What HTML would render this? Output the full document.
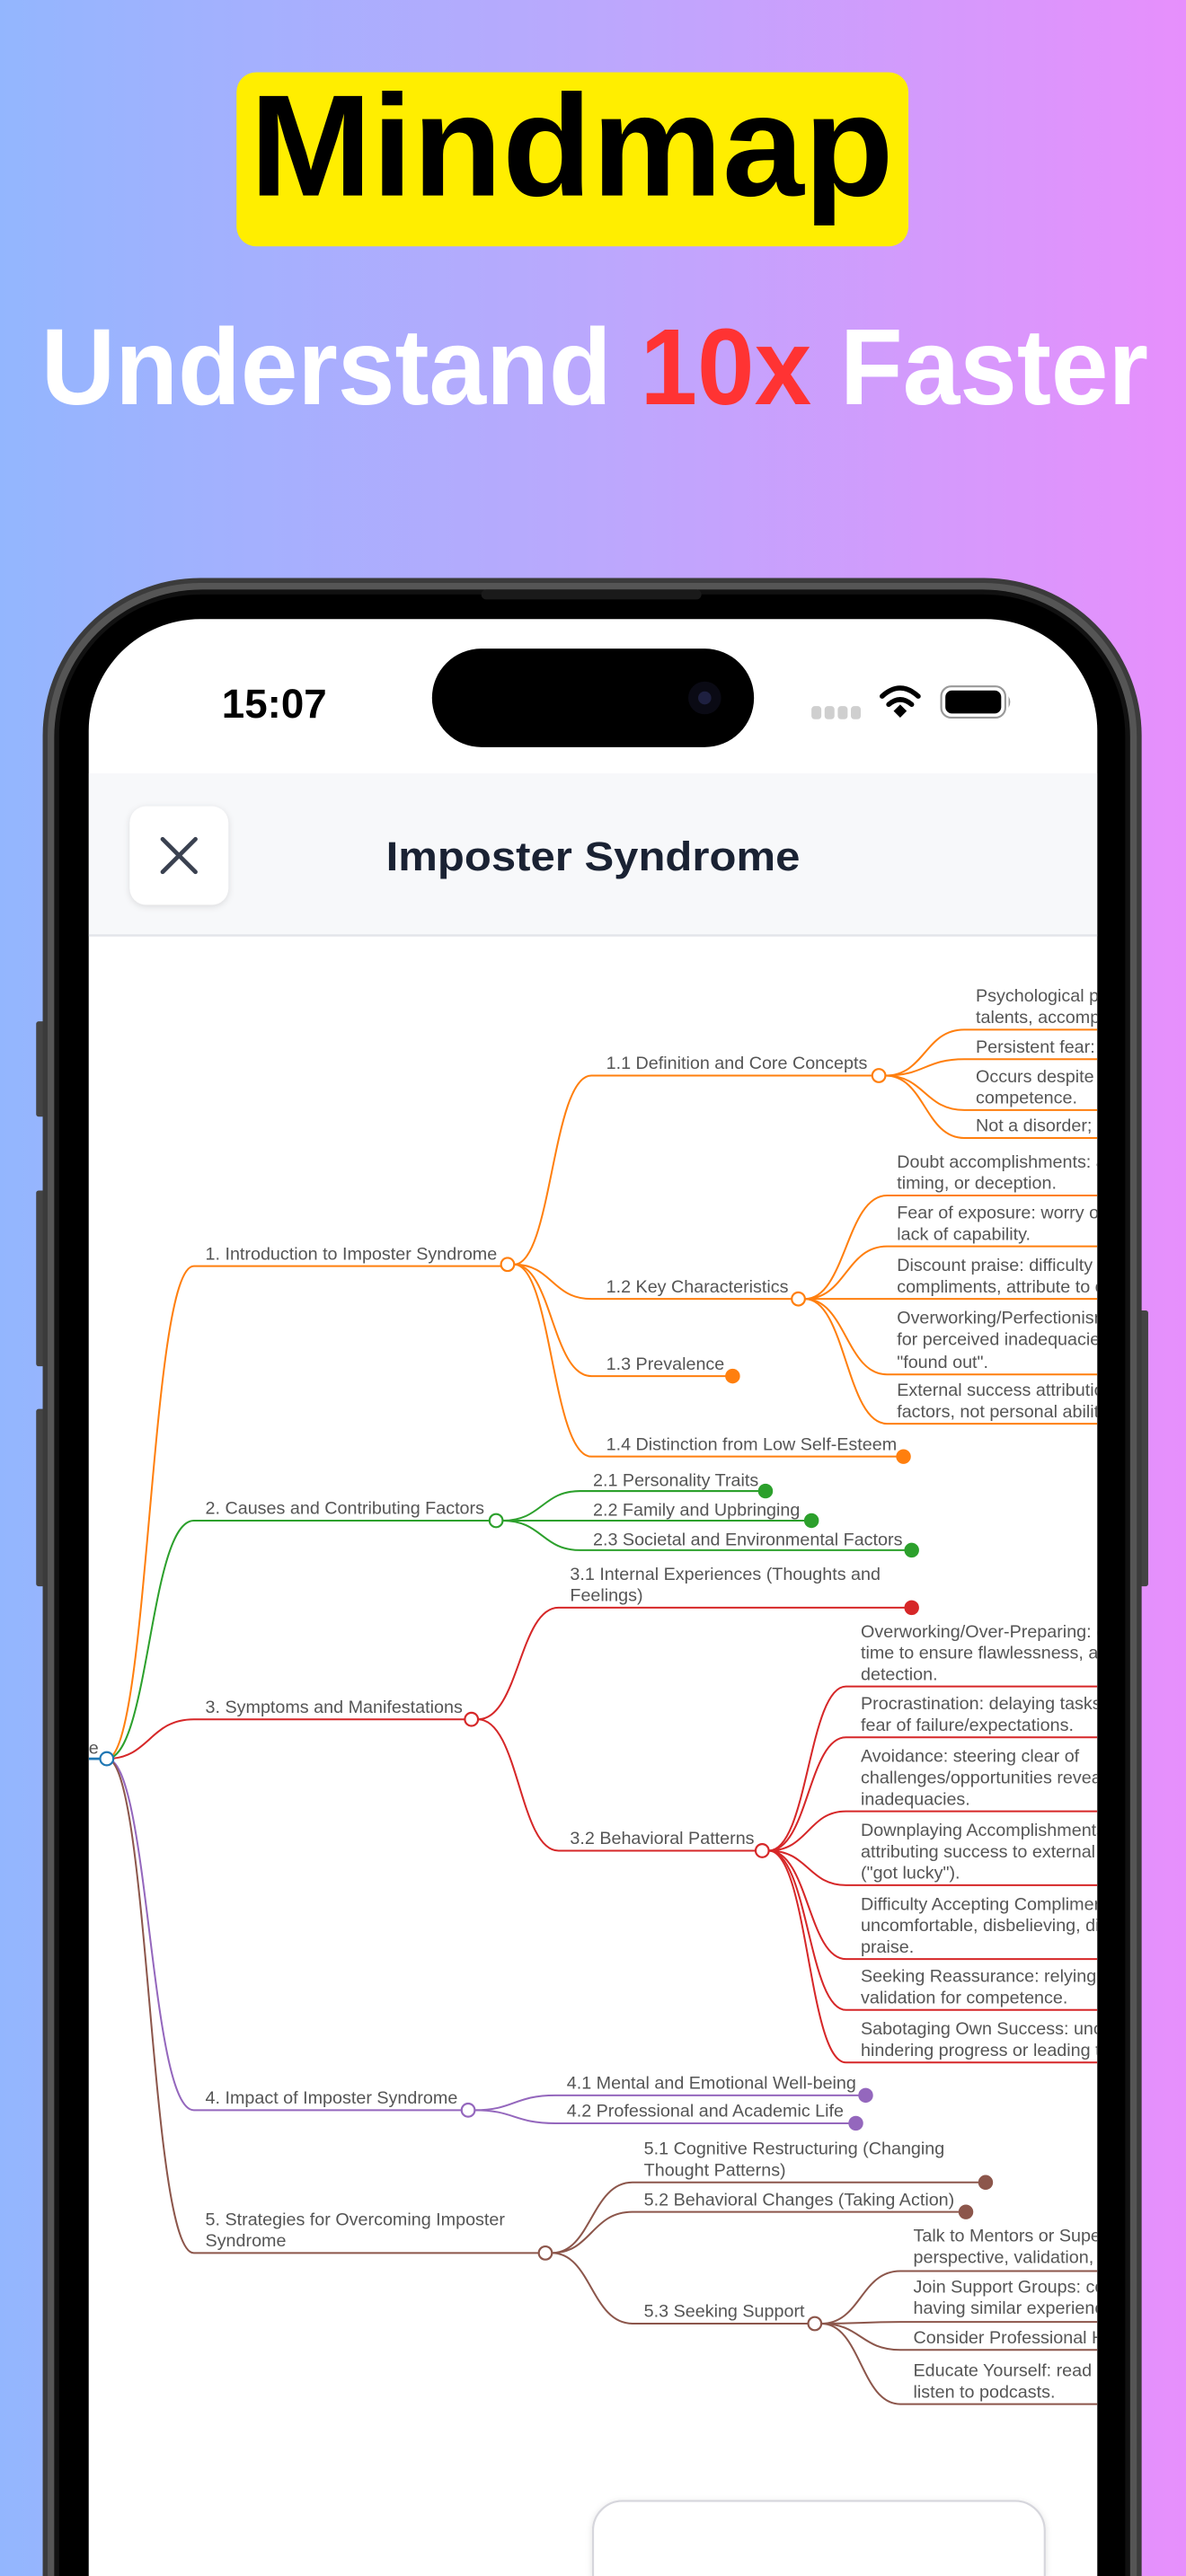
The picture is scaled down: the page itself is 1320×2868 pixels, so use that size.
<!DOCTYPE html>
<html><head><meta charset="utf-8"><style>
html,body{margin:0;padding:0;overflow:hidden;}
body{width:1320px;height:2868px;overflow:hidden;}
svg{display:block;overflow:hidden;}
.t{font-family:"Liberation Sans",sans-serif;font-size:10.8px;fill:#555;}
</style></head><body>
<svg width="1320" height="2868" viewBox="0 0 722 1568.7" preserveAspectRatio="none" xmlns="http://www.w3.org/2000/svg">
<defs>
<linearGradient id="bg" x1="0" y1="0" x2="1" y2="0">
<stop offset="0" stop-color="#93b6fe"/><stop offset="0.5" stop-color="#bba8fd"/><stop offset="1" stop-color="#e78ffc"/>
</linearGradient>
<clipPath id="scr"><path d="M54 1569 V445 A68 68 0 0 1 122 377 H600 A68 68 0 0 1 668 445 V1569 Z"/></clipPath>
<filter id="sh" x="-20%" y="-20%" width="140%" height="140%"><feDropShadow dx="0" dy="1" stdDeviation="2" flood-color="#000" flood-opacity="0.12"/></filter>
</defs>
<rect width="722" height="1569" fill="url(#bg)"/>
<rect x="144" y="44" width="409" height="106" rx="12" fill="#ffee00"/>
<text x="348" y="119" text-anchor="middle" font-family="Liberation Sans,sans-serif" font-weight="bold" font-size="88" textLength="392" lengthAdjust="spacingAndGlyphs" fill="#000">Mindmap</text>
<text x="362" y="246" text-anchor="middle" font-family="Liberation Sans,sans-serif" font-weight="bold" font-size="66" textLength="674" lengthAdjust="spacingAndGlyphs" fill="#fff">Understand <tspan fill="#ff3333">10x</tspan> Faster</text>
<rect x="22" y="622" width="6" height="58" rx="1.5" fill="#444"/>
<rect x="22" y="725" width="6" height="107" rx="1.5" fill="#444"/>
<rect x="22" y="858" width="6" height="108" rx="1.5" fill="#444"/>
<rect x="693" y="798" width="6" height="168" rx="1.5" fill="#444"/>
<path d="M26 1569 V448 A96 96 0 0 1 122 352 H599 A96 96 0 0 1 695 448 V1569 Z" fill="#3b3b3b"/>
<path d="M29 1569 V448 A93 93 0 0 1 122 355 H599 A93 93 0 0 1 692 448 V1569 Z" fill="#555"/>
<path d="M33 1569 V449 A90 90 0 0 1 123 359 H598 A90 90 0 0 1 688 449 V1569 Z" fill="#111"/>
<path d="M36 1569 V448 A86 86 0 0 1 122 362 H599 A86 86 0 0 1 685 448 V1569 Z" fill="#000"/>
<rect x="293" y="359" width="134" height="6" rx="3" fill="#1a1a1a"/>
<path d="M54 1569 V445 A68 68 0 0 1 122 377 H600 A68 68 0 0 1 668 445 V1569 Z" fill="#fff"/>
<g clip-path="url(#scr)">
<rect x="263" y="395" width="196" height="60" rx="30" fill="#000"/>
<circle cx="429" cy="425" r="10" fill="#0a0a14"/><circle cx="429" cy="425" r="4" fill="#1e2040"/>
<text x="135" y="437" font-family="Liberation Sans,sans-serif" font-weight="bold" font-size="25" fill="#000">15:07</text>
<g fill="#cfcfcf"><rect x="494" y="430" width="6" height="8" rx="2"/><rect x="502" y="430" width="6" height="8" rx="2"/><rect x="510" y="430" width="6" height="8" rx="2"/><rect x="518" y="430" width="6" height="8" rx="2"/></g>
<g fill="none" stroke="#000" stroke-width="3" stroke-linecap="round">
<path d="M537 424 Q548 414 559 424"/><path d="M541 429 Q548 423 555 429"/></g>
<path d="M544 433 L548 429 L552 433 L548 437 Z" fill="#000"/>
<rect x="573" y="418" width="39" height="19" rx="6" fill="#fff" stroke="#999" stroke-width="1.2"/>
<rect x="575.5" y="420.5" width="34" height="14" rx="4" fill="#000"/>
<path d="M614 424 q2 3.5 0 7 z" fill="#999"/>
<rect x="54" y="471" width="614" height="99" fill="#f7f8fa"/>
<rect x="54" y="569" width="614" height="1.3" fill="#e2e4e9"/>
<rect x="79" y="491" width="60" height="60" rx="10" fill="#fff" filter="url(#sh)"/>
<path d="M99 511 L119 531 M119 511 L99 531" stroke="#3a4150" stroke-width="2.6" stroke-linecap="round"/>
<text x="361" y="530" text-anchor="middle" font-family="Liberation Sans,sans-serif" font-weight="bold" font-size="25" textLength="252" lengthAdjust="spacingAndGlyphs" fill="#1a2233">Imposter Syndrome</text>

<g fill="none" stroke-width="1.1">
<g stroke="#ff7f0e">
<path d="M65 1071 C91 1071 91 771 118 771 H305"/>
<path d="M313 770 C336 770 336 655 360 655 H531"/>
<path d="M313 770 C336 770 336 791 360 791 H482"/>
<path d="M313 770 C336 770 336 838 360 838 H446"/>
<path d="M313 770 C336 770 336 887 360 887 H550"/>
<path d="M539 655 C563 655 563 627 587 627 H668"/>
<path d="M539 655 C563 655 563 645 587 645 H668"/>
<path d="M539 655 C563 655 563 676 587 676 H668"/>
<path d="M539 655 C563 655 563 693 587 693 H668"/>
<path d="M490 791 C515 791 515 728 540 728 H668"/>
<path d="M490 791 C515 791 515 759 540 759 H668"/>
<path d="M490 791 C515 791 515 791 540 791 H668"/>
<path d="M490 791 C515 791 515 837 540 837 H668"/>
<path d="M490 791 C515 791 515 867 540 867 H668"/>
</g>
<g stroke="#2ca02c">
<path d="M65 1071 C91 1071 91 926 118 926 H298"/>
<path d="M306 926 C330 926 330 908 353 908 H466"/>
<path d="M306 926 C330 926 330 926 353 926 H494"/>
<path d="M306 926 C330 926 330 944 353 944 H555"/>
</g>
<g stroke="#d62728">
<path d="M65 1071 C91 1071 91 1047 118 1047 H283"/>
<path d="M291 1047 C316 1047 316 979 340 979 H555"/>
<path d="M291 1047 C316 1047 316 1127 340 1127 H460"/>
<path d="M468 1127 C492 1127 492 1027 515 1027 H668"/>
<path d="M468 1127 C492 1127 492 1058 515 1058 H668"/>
<path d="M468 1127 C492 1127 492 1103 515 1103 H668"/>
<path d="M468 1127 C492 1127 492 1148 515 1148 H668"/>
<path d="M468 1127 C492 1127 492 1193 515 1193 H668"/>
<path d="M468 1127 C492 1127 492 1224 515 1224 H668"/>
<path d="M468 1127 C492 1127 492 1256 515 1256 H668"/>
</g>
<g stroke="#9467bd">
<path d="M65 1071 C91 1071 91 1285 118 1285 H281"/>
<path d="M289 1285 C313 1285 313 1276 338 1276 H527"/>
<path d="M289 1285 C313 1285 313 1293 338 1293 H521"/>
</g>
<g stroke="#8c564b">
<path d="M65 1071 C91 1071 91 1372 118 1372 H328"/>
<path d="M336 1372 C360 1372 360 1329 385 1329 H600"/>
<path d="M336 1372 C360 1372 360 1347 385 1347 H588"/>
<path d="M336 1372 C360 1372 360 1415 385 1415 H492"/>
<path d="M500 1415 C524 1415 524 1383 548 1383 H668"/>
<path d="M500 1415 C524 1415 524 1414 548 1414 H668"/>
<path d="M500 1415 C524 1415 524 1431 548 1431 H668"/>
<path d="M500 1415 C524 1415 524 1464 548 1464 H668"/>
</g>
<path d="M54 1071 H61" stroke="#1f77b4" stroke-width="1.5"/>
</g>
<g fill="#fff" stroke-width="1.2">
<circle cx="65" cy="1071" r="4" stroke="#1f77b4"/>
<circle cx="309" cy="770" r="4" stroke="#ff7f0e"/>
<circle cx="535" cy="655" r="4" stroke="#ff7f0e"/>
<circle cx="486" cy="791" r="4" stroke="#ff7f0e"/>
<circle cx="302" cy="926" r="4" stroke="#2ca02c"/>
<circle cx="287" cy="1047" r="4" stroke="#d62728"/>
<circle cx="464" cy="1127" r="4" stroke="#d62728"/>
<circle cx="285" cy="1285" r="4" stroke="#9467bd"/>
<circle cx="332" cy="1372" r="4" stroke="#8c564b"/>
<circle cx="496" cy="1415" r="4" stroke="#8c564b"/>
</g>
<g>
<circle cx="446" cy="838" r="4.5" fill="#ff7f0e"/>
<circle cx="550" cy="887" r="4.5" fill="#ff7f0e"/>
<circle cx="466" cy="908" r="4.5" fill="#2ca02c"/>
<circle cx="494" cy="926" r="4.5" fill="#2ca02c"/>
<circle cx="555" cy="944" r="4.5" fill="#2ca02c"/>
<circle cx="555" cy="979" r="4.5" fill="#d62728"/>
<circle cx="527" cy="1276" r="4.5" fill="#9467bd"/>
<circle cx="521" cy="1293" r="4.5" fill="#9467bd"/>
<circle cx="600" cy="1329" r="4.5" fill="#8c564b"/>
<circle cx="588" cy="1347" r="4.5" fill="#8c564b"/>
</g>
<g class="t">
<text x="54" y="1068" class="t">e</text>
<text x="125" y="767" class="t">1. Introduction to Imposter Syndrome</text>
<text x="369" y="651" class="t">1.1 Definition and Core Concepts</text>
<text x="369" y="787" class="t">1.2 Key Characteristics</text>
<text x="369" y="834" class="t">1.3 Prevalence</text>
<text x="369" y="883" class="t">1.4 Distinction from Low Self-Esteem</text>
<text x="594" y="610" class="t">Psychological pattern of doubting</text>
<text x="594" y="623" class="t">talents, accomplishments</text>
<text x="594" y="641" class="t">Persistent fear: being exposed</text>
<text x="594" y="659" class="t">Occurs despite evidence of</text>
<text x="594" y="672" class="t">competence.</text>
<text x="594" y="689" class="t">Not a disorder; a common experience</text>
<text x="546" y="711" class="t">Doubt accomplishments: attribute to luck,</text>
<text x="546" y="724" class="t">timing, or deception.</text>
<text x="546" y="742" class="t">Fear of exposure: worry others discover</text>
<text x="546" y="755" class="t">lack of capability.</text>
<text x="546" y="774" class="t">Discount praise: difficulty accepting</text>
<text x="546" y="787" class="t">compliments, attribute to others.</text>
<text x="546" y="806" class="t">Overworking/Perfectionism: compensate</text>
<text x="546" y="819" class="t">for perceived inadequacies, avoid being</text>
<text x="546" y="833" class="t">"found out".</text>
<text x="546" y="850" class="t">External success attribution: external</text>
<text x="546" y="863" class="t">factors, not personal ability.</text>
<text x="125" y="922" class="t">2. Causes and Contributing Factors</text>
<text x="361" y="905" class="t">2.1 Personality Traits</text>
<text x="361" y="923" class="t">2.2 Family and Upbringing</text>
<text x="361" y="941" class="t">2.3 Societal and Environmental Factors</text>
<text x="125" y="1043" class="t">3. Symptoms and Manifestations</text>
<text x="347" y="962" class="t">3.1 Internal Experiences (Thoughts and</text>
<text x="347" y="975" class="t">Feelings)</text>
<text x="347" y="1123" class="t">3.2 Behavioral Patterns</text>
<text x="524" y="997" class="t">Overworking/Over-Preparing: excessive</text>
<text x="524" y="1010" class="t">time to ensure flawlessness, avoid</text>
<text x="524" y="1023" class="t">detection.</text>
<text x="524" y="1041" class="t">Procrastination: delaying tasks due to</text>
<text x="524" y="1054" class="t">fear of failure/expectations.</text>
<text x="524" y="1073" class="t">Avoidance: steering clear of</text>
<text x="524" y="1086" class="t">challenges/opportunities revealing</text>
<text x="524" y="1099" class="t">inadequacies.</text>
<text x="524" y="1118" class="t">Downplaying Accomplishments:</text>
<text x="524" y="1131" class="t">attributing success to external factors</text>
<text x="524" y="1144" class="t">("got lucky").</text>
<text x="524" y="1163" class="t">Difficulty Accepting Compliments:</text>
<text x="524" y="1176" class="t">uncomfortable, disbelieving, dismissing</text>
<text x="524" y="1189" class="t">praise.</text>
<text x="524" y="1207" class="t">Seeking Reassurance: relying on external</text>
<text x="524" y="1220" class="t">validation for competence.</text>
<text x="524" y="1239" class="t">Sabotaging Own Success: unconsciously</text>
<text x="524" y="1252" class="t">hindering progress or leading to failure.</text>
<text x="125" y="1281" class="t">4. Impact of Imposter Syndrome</text>
<text x="345" y="1272" class="t">4.1 Mental and Emotional Well-being</text>
<text x="345" y="1289" class="t">4.2 Professional and Academic Life</text>
<text x="125" y="1355" class="t">5. Strategies for Overcoming Imposter</text>
<text x="125" y="1368" class="t">Syndrome</text>
<text x="392" y="1312" class="t">5.1 Cognitive Restructuring (Changing</text>
<text x="392" y="1325" class="t">Thought Patterns)</text>
<text x="392" y="1343" class="t">5.2 Behavioral Changes (Taking Action)</text>
<text x="392" y="1411" class="t">5.3 Seeking Support</text>
<text x="556" y="1365" class="t">Talk to Mentors or Supervisors: gain</text>
<text x="556" y="1378" class="t">perspective, validation, advice.</text>
<text x="556" y="1396" class="t">Join Support Groups: connect with others</text>
<text x="556" y="1409" class="t">having similar experiences.</text>
<text x="556" y="1427" class="t">Consider Professional Help</text>
<text x="556" y="1447" class="t">Educate Yourself: read books, articles,</text>
<text x="556" y="1460" class="t">listen to podcasts.</text>
</g>
<path d="M361 1569 V1541 A18 18 0 0 1 379 1523 H618 A18 18 0 0 1 636 1541 V1569" fill="#fff" stroke="#d6d6dc" stroke-width="1.2" filter="url(#sh)"/>
</g>
</svg>
</body></html>
